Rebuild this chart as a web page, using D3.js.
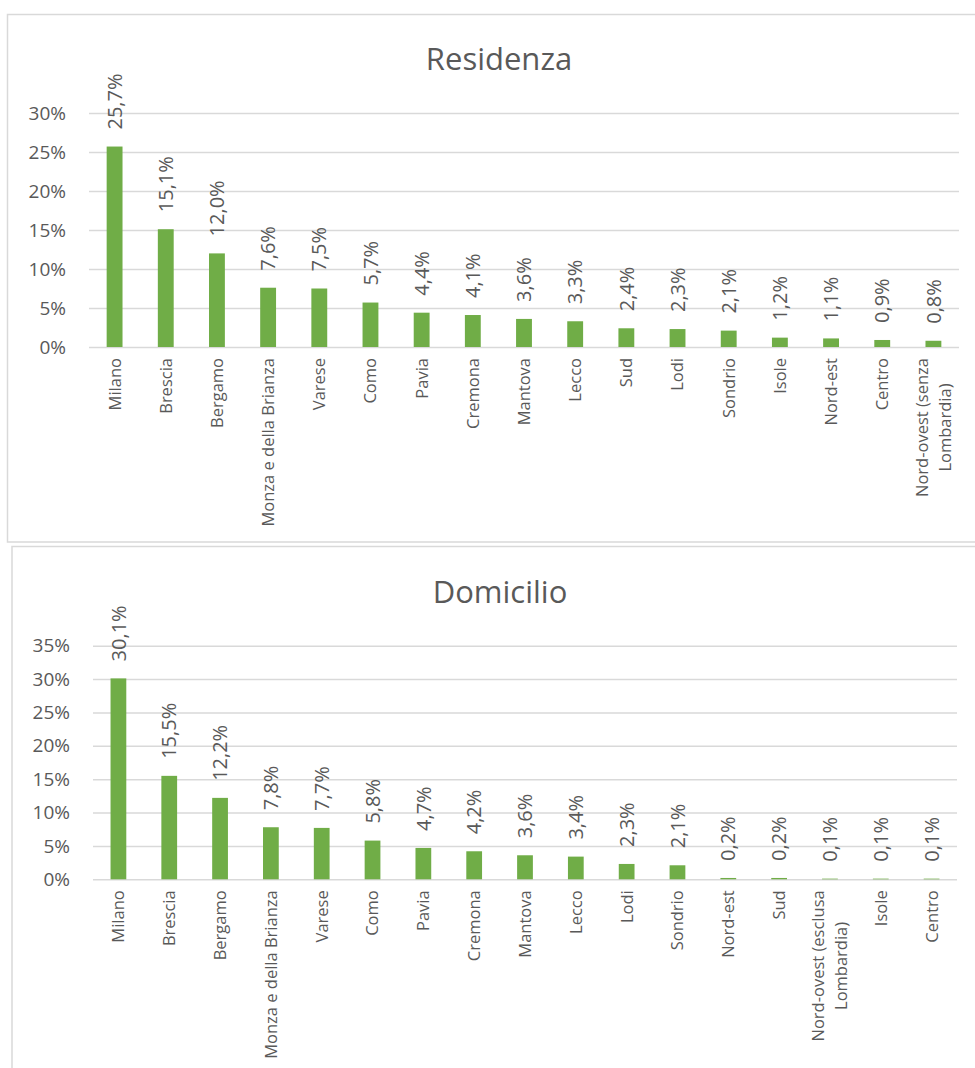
<!DOCTYPE html>
<html>
<head>
<meta charset="utf-8">
<script src="https://cdn.jsdelivr.net/npm/d3@7"></script>
<style>
  html, body { margin: 0; padding: 0; background: #fff; }
  svg { display: block; font-family: "Open Sans", "Noto Sans", sans-serif; }
</style>
</head>
<body>
<svg id="chart" width="975" height="1068"></svg>
<script>
// Residenza: province / area of residence, share of total (%)
const residenzaCategories = [
  "Milano", "Brescia", "Bergamo", "Monza e della Brianza", "Varese", "Como",
  "Pavia", "Cremona", "Mantova", "Lecco", "Sud", "Lodi", "Sondrio", "Isole",
  "Nord-est", "Centro", "Nord-ovest (senza Lombardia)"
];
const residenzaValues = [25.7, 15.1, 12.0, 7.6, 7.5, 5.7, 4.4, 4.1, 3.6, 3.3, 2.4, 2.3, 2.1, 1.2, 1.1, 0.9, 0.8];
const residenzaTicks = [0, 5, 10, 15, 20, 25, 30];

// Domicilio: province / area of domicile, share of total (%)
const domicilioCategories = [
  "Milano", "Brescia", "Bergamo", "Monza e della Brianza", "Varese", "Como",
  "Pavia", "Cremona", "Mantova", "Lecco", "Lodi", "Sondrio", "Nord-est", "Sud",
  "Nord-ovest (esclusa Lombardia)", "Isole", "Centro"
];
const domicilioValues = [30.1, 15.5, 12.2, 7.8, 7.7, 5.8, 4.7, 4.2, 3.6, 3.4, 2.3, 2.1, 0.2, 0.2, 0.1, 0.1, 0.1];
const domicilioTicks = [0, 5, 10, 15, 20, 25, 30, 35];

const itLocale = d3.formatLocale({ decimal: ",", thousands: ".", grouping: [3], currency: ["", " €"] });
const fmtValue = itLocale.format(".1f");
const fmtTick = itLocale.format("d");

const svg = d3.select("#chart");
const TEXT = "#595959", GRID = "#D9D9D9", BAR = "#70AD47";
const CAT_SIZE = 16.5;

function drawChart(opt) {
  const g = svg.append("g");

  // chart frame
  g.append("rect")
    .attr("x", opt.frame[0]).attr("y", opt.frame[1])
    .attr("width", opt.frame[2]).attr("height", opt.frame[3])
    .attr("fill", "none").attr("stroke", GRID).attr("stroke-width", 1.5);

  const x = d3.scaleBand().domain(opt.categories).range([opt.left, opt.right]).paddingInner(0.69).paddingOuter(0.345);
  const y = d3.scaleLinear().domain([0, d3.max(opt.ticks)]).range([opt.bottom, opt.top]);

  // title
  g.append("text")
    .attr("x", opt.titleX).attr("y", opt.titleY)
    .attr("text-anchor", "middle")
    .attr("fill", TEXT).attr("font-size", 31)
    .text(opt.title);

  // y axis: gridlines + labels
  const yAxis = d3.axisLeft(y).tickValues(opt.ticks).tickSize(-(opt.right - opt.left)).tickPadding(23)
    .tickFormat(d => fmtTick(d) + "%");
  const ya = g.append("g").attr("transform", `translate(${opt.left},0)`).call(yAxis);
  ya.select(".domain").remove();
  ya.selectAll(".tick line").attr("stroke", GRID).attr("stroke-width", 1.5);
  ya.selectAll(".tick text").attr("fill", TEXT).attr("font-size", 19)
    .attr("font-family", "'Open Sans', 'Noto Sans', sans-serif");

  // bars
  g.append("g").selectAll("rect")
    .data(opt.values)
    .join("rect")
    .attr("x", (d, i) => x(opt.categories[i]))
    .attr("width", x.bandwidth())
    .attr("y", d => y(d))
    .attr("height", d => y(0) - y(d))
    .attr("fill", BAR);

  // value labels, rotated above each bar
  g.append("g").selectAll("text")
    .data(opt.values)
    .join("text")
    .attr("transform", (d, i) => `translate(${x(opt.categories[i]) + x.bandwidth() / 2},${y(d) - 17}) rotate(-90)`)
    .attr("dy", "0.36em")
    .attr("fill", TEXT).attr("font-size", 20)
    .text(d => fmtValue(d) + "%");

  // category labels, rotated below the axis, wrapped when long
  const cat = g.append("g");
  opt.categories.forEach((c, i) => {
    const cx = x(c) + x.bandwidth() / 2;
    const words = c.split(" ");
    const lines = [];
    let cur = "";
    const probe = cat.append("text").attr("font-size", CAT_SIZE);
    words.forEach(w => {
      const test = cur ? cur + " " + w : w;
      probe.text(test);
      if (cur && probe.node().getComputedTextLength() > 190) { lines.push(cur); cur = w; }
      else cur = test;
    });
    lines.push(cur);
    probe.remove();

    const t = cat.append("text")
      .attr("transform", `translate(${cx},${opt.bottom + 11}) rotate(-90)`)
      .attr("fill", TEXT).attr("font-size", CAT_SIZE);
    if (lines.length === 1) {
      t.attr("text-anchor", "end").attr("dy", "0.36em").text(c);
    } else {
      const spans = lines.map((l, k) => t.append("tspan")
        .attr("text-anchor", "middle")
        .attr("y", (k - (lines.length - 1) / 2) * 23)
        .attr("dy", "0.36em")
        .text(l));
      const maxW = d3.max(spans, s => s.node().getComputedTextLength());
      spans.forEach(s => s.attr("x", -maxW / 2));
    }
  });
}

drawChart({
  title: "Residenza", categories: residenzaCategories, values: residenzaValues, ticks: residenzaTicks,
  frame: [7.5, 14.5, 980, 527.5], left: 89, right: 959, top: 113, bottom: 347, titleX: 499, titleY: 70
});

drawChart({
  title: "Domicilio", categories: domicilioCategories, values: domicilioValues, ticks: domicilioTicks,
  frame: [12, 546.5, 980, 540], left: 93, right: 957, top: 645.7, bottom: 879.3, titleX: 500, titleY: 603
});
</script>
</body>
</html>
